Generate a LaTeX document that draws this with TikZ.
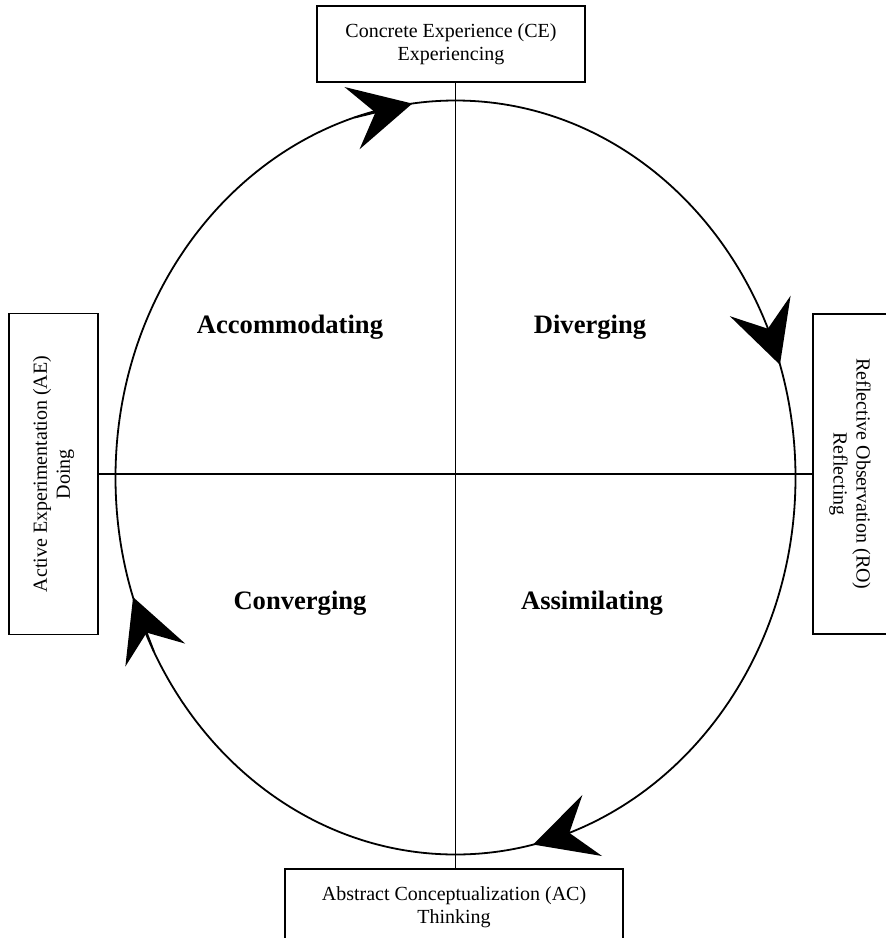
\documentclass[tikz,border=0pt]{standalone}
\usepackage{fontspec}
\setmainfont{Liberation Serif}
\usetikzlibrary{arrows.meta,calc}

\begin{document}
\begin{tikzpicture}[x=0.5pt,y=-0.5pt,line width=0.9pt,
        box/.style={draw,fill=white,align=center,font=\fontsize{10}{11.5}\selectfont},
        stage/.style={font=\fontsize{13.3}{16}\selectfont\bfseries},
        cyc/.style={-{Stealth[length=31pt,width=32pt,inset=12pt]}}]
    \useasboundingbox (0,0) rectangle (885,938);
    \coordinate (c) at (455.5,477.5);
    \draw (c) ellipse [x radius=170pt, y radius=188.5pt];

    % the four modes
    \node[box,minimum width=134pt,minimum height=38pt] (ce) at (451,44)
        {Concrete Experience (CE)\\Experiencing};
    \node[box,minimum width=169pt,minimum height=38pt] (ac) at (454,907)
        {Abstract Conceptualization (AC)\\Thinking};
    \node[box,rotate=90,minimum width=160.5pt,minimum height=44.5pt] (ae) at (53.5,474)
        {Active Experimentation (AE)\\Doing};
    \node[box,rotate=-90,minimum width=160pt,minimum height=37pt] (ro) at (850,474)
        {Reflective Observation (RO)\\Reflecting};

    \draw (ce.south -| c) -- (ac.north -| c);
    \draw (ae) -- (ro);

    % learning styles
    \node[stage] (acc) at (290,327) {Accommodating};
    \node[stage] (div) at (590,327) {Diverging};
    \node[stage] (con) at (300,603) {Converging};
    \node[stage] (ass) at (592,603) {Assimilating};

    % clockwise arrows
    \draw[cyc] ($(c)+({170pt*cos(107.3)},{188.5pt*sin(107.3)})$) -- ($(c)+({170pt*cos(97.3)},{188.5pt*sin(97.3)})$);
    \draw[cyc] ($(c)+({170pt*cos(23.4)},{188.5pt*sin(23.4)})$) -- ($(c)+({170pt*cos(17.4)},{188.5pt*sin(17.4)})$);
    \draw[cyc] ($(c)+({170pt*cos(-70.8)},{188.5pt*sin(-70.8)})$) -- ($(c)+({170pt*cos(-76.8)},{188.5pt*sin(-76.8)})$);
    \draw[cyc] ($(c)+({170pt*cos(207.5)},{188.5pt*sin(207.5)})$) -- ($(c)+({170pt*cos(198.5)},{188.5pt*sin(198.5)})$);
\end{tikzpicture}
\end{document}
